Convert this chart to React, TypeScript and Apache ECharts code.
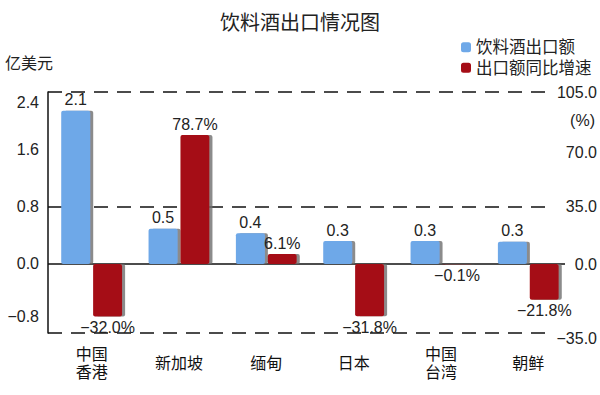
import React, { useEffect, useRef } from "react";
import * as echarts from "echarts";

const categories = ["中国\n香港", "新加坡", "缅甸", "日本", "中国\n台湾", "朝鲜"];
const exportValue = [2.14, 0.49, 0.43, 0.32, 0.32, 0.31];
const growthRate = [-32.0, 78.7, 6.1, -31.8, -0.1, -21.8];
const leftTicks = [-0.8, 0, 0.8, 1.6, 2.4];
const rightTicks = [-35, 0, 35, 70, 105];
const seriesNames = ["饮料酒出口额", "出口额同比增速"];

const FONT = '"Liberation Sans", Arial, "Noto Sans CJK SC", sans-serif';
const minus = (s: string) => s.replace("-", "\u2212");

export default function App() {
  const ref = useRef<HTMLDivElement>(null);
  useEffect(() => {
    if (!ref.current) return;
    const chart = echarts.init(ref.current, null, { renderer: "svg" });
    const shadow = {
      shadowColor: "rgba(110,110,110,0.8)",
      shadowOffsetX: 3,
      shadowOffsetY: 0,
      shadowBlur: 0,
    };
    const dash = { color: "#111", width: 1.5, type: [14, 9] as any };
    const tickRich = (pad: number[]) => ({
      padding: pad,
      fontSize: 16,
      color: "#222",
      fontFamily: FONT,
    });
    chart.setOption({
      animation: false,
      textStyle: { fontFamily: FONT },
      title: [
        {
          text: "饮料酒出口情况图",
          left: "center",
          top: 8,
          textStyle: { fontSize: 20, fontWeight: "normal", color: "#222", fontFamily: FONT },
        },
        {
          text: "亿美元",
          left: 0,
          top: 50,
          textStyle: { fontSize: 16, fontWeight: "normal", color: "#222", fontFamily: FONT },
        },
        {
          text: "(%)",
          right: 0,
          top: 107,
          textStyle: { fontSize: 16, fontWeight: "normal", color: "#222", fontFamily: FONT },
        },
      ],
      legend: {
        orient: "vertical",
        left: 456,
        top: 34,
        itemWidth: 10,
        itemHeight: 10,
        itemGap: 4,
        icon: "roundRect",
        textStyle: { fontSize: 16.5, color: "#222", fontFamily: FONT },
        data: seriesNames,
      },
      grid: { left: 48, right: 28, top: 92, bottom: 62 },
      xAxis: {
        type: "category",
        data: categories,
        axisLine: { show: false },
        axisTick: { show: false },
        axisLabel: {
          margin: 30,
          verticalAlign: "middle",
          fontSize: 16,
          lineHeight: 18,
          color: "#111",
          fontFamily: FONT,
        },
      },
      yAxis: [
        {
          type: "value",
          min: -0.963,
          max: 2.4,
          axisLine: { show: true, lineStyle: { color: "#111", width: 1.5 } },
          axisTick: { show: false, customValues: leftTicks },
          splitLine: { show: false },
          axisLabel: {
            customValues: leftTicks,
            margin: 9,
            fontSize: 16,
            color: "#222",
            fontFamily: FONT,
            formatter: (v: number) => {
              const t = minus(v.toFixed(1));
              if (v === 2.4) return "{dn|" + t + "}";
              if (v === -0.8) return "{up|" + t + "}";
              return t;
            },
            rich: { dn: tickRich([20, 0, 0, 0]), up: tickRich([0, 0, 10, 0]) },
          },
        },
        {
          type: "value",
          position: "right",
          min: -42.1,
          max: 105,
          axisLine: { show: false },
          axisTick: { show: false, customValues: rightTicks },
          splitLine: { show: false },
          axisLabel: {
            customValues: rightTicks,
            align: "right",
            margin: 25,
            fontSize: 16,
            color: "#222",
            fontFamily: FONT,
            formatter: (v: number) => {
              const t = minus(v.toFixed(1));
              if (v === -35) return "{dn|" + t + "}";
              if (v === 70) return "{sm|" + t + "}";
              return t;
            },
            rich: { dn: tickRich([34, 0, 0, 0]), sm: tickRich([6, 0, 0, 0]) },
          },
        },
      ],
      series: [
        {
          name: seriesNames[0],
          type: "bar",
          yAxisIndex: 0,
          barWidth: 29,
          barGap: "10%",
          data: exportValue,
          itemStyle: { color: "#6EA8E8", borderRadius: 2, ...shadow },
          label: {
            show: true,
            position: "top",
            distance: 3,
            fontSize: 16,
            color: "#222",
            fontFamily: FONT,
            formatter: (p: any) => minus(Number(p.value).toFixed(1)),
          },
          markLine: {
            silent: true,
            symbol: "none",
            z: 1,
            label: { show: false },
            data: [
              [
                { yAxis: 2.4, x: 48, lineStyle: dash },
                { yAxis: 2.4, x: 552 },
              ],
              [
                { yAxis: 0.8, x: 48, lineStyle: dash },
                { yAxis: 0.8, x: 552 },
              ],
              [
                { yAxis: -0.963, x: 48, lineStyle: dash },
                { yAxis: -0.963, x: 552 },
              ],
              [
                { yAxis: 0, x: 48, lineStyle: { color: "#111", width: 1.5, type: "solid" } },
                { yAxis: 0, x: 565 },
              ],
            ],
          },
        },
        {
          name: seriesNames[1],
          type: "bar",
          yAxisIndex: 1,
          barWidth: 29,
          barGap: "10%",
          data: growthRate.map((v) => ({
            value: v,
            label: { position: v < 0 ? "bottom" : "top" },
          })),
          itemStyle: { color: "#A50D16", borderRadius: 2, ...shadow },
          label: {
            show: true,
            distance: 3,
            fontSize: 16,
            color: "#222",
            fontFamily: FONT,
            formatter: (p: any) => minus(Number(p.value).toFixed(1)) + "%",
          },
        },
      ],
    });
    return () => chart.dispose();
  }, []);
  return (
    <div
      ref={ref}
      style={{ position: "fixed", left: 0, top: 0, width: 600, height: 395, background: "#fff" }}
    />
  );
}
